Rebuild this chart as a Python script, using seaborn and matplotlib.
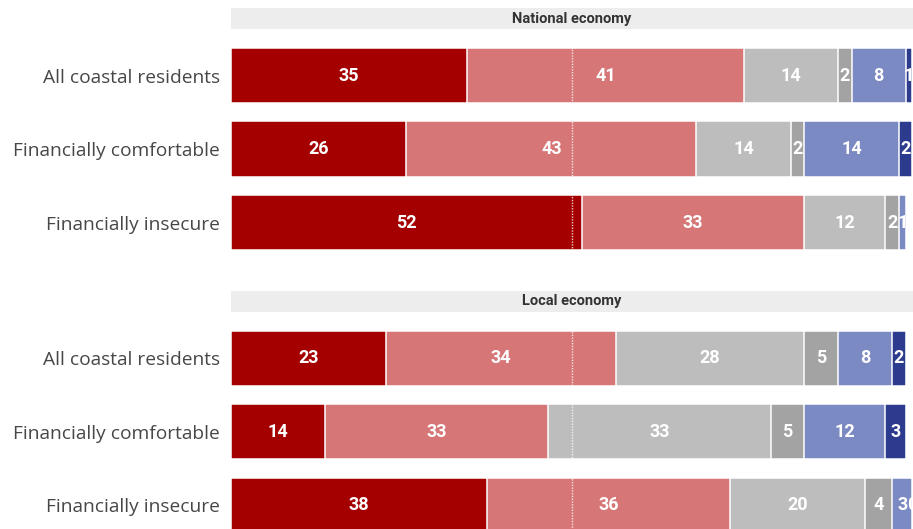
import matplotlib
matplotlib.use("Agg")
import matplotlib.pyplot as plt
from matplotlib.patches import Rectangle
import numpy as np
import pandas as pd
import seaborn as sns

# Response shares (percent) by group, one list per answer category
groups = ["All coastal residents", "Financially comfortable", "Financially insecure"]
answers = ["Much worse", "Somewhat worse", "Stayed the same", "Not sure",
           "Somewhat better", "Much better"]

national_much_worse = [35, 26, 52]
national_somewhat_worse = [41, 43, 33]
national_same = [14, 14, 12]
national_unsure = [2, 2, 2]
national_somewhat_better = [8, 14, 1]
national_much_better = [1, 2, 0]

local_much_worse = [23, 14, 38]
local_somewhat_worse = [34, 33, 36]
local_same = [28, 33, 20]
local_unsure = [5, 5, 4]
local_somewhat_better = [8, 12, 3]
local_much_better = [2, 3, 0]

panels = [
    ("National economy", [national_much_worse, national_somewhat_worse, national_same,
                          national_unsure, national_somewhat_better, national_much_better]),
    ("Local economy", [local_much_worse, local_somewhat_worse, local_same,
                       local_unsure, local_somewhat_better, local_much_better]),
]

colors = ["#A50000", "#D67676", "#BDBDBD", "#A3A3A3", "#7B8AC2", "#2D3B8E"]

sns.set_theme(style="white")
plt.rcParams["font.family"] = ["Open Sans", "DejaVu Sans"]

W, H = 913, 529
fig = plt.figure(figsize=(W / 100, H / 100), dpi=100)

left_px = 231
xmax = 101.1
# (axes top px, axes bottom px, strip top px, strip bottom px)
layout = [(38.75, 259.25, 8, 29), (321.5, 542.0, 291, 312)]
num_font = ["Roboto", "DejaVu Sans"]

for (title, series), (atop, abot, stop, sbot) in zip(panels, layout):
    ax = fig.add_axes([left_px / W, 1 - abot / H, 1 - left_px / W, (abot - atop) / H])
    vals = np.array(series, dtype=float)          # shape (answers, groups)
    cum = np.cumsum(vals, axis=0)

    # Stack by overlaying cumulative totals, longest first
    for k in range(len(answers) - 1, -1, -1):
        df = pd.DataFrame({"group": groups, "total": cum[k]})
        sns.barplot(data=df, x="total", y="group", orient="h", color=colors[k],
                    saturation=1, width=0.75, edgecolor="white", linewidth=1.1,
                    ax=ax, zorder=2)

    # segment value labels; a zero share is written just after its neighbour's label
    for k in range(len(answers)):
        for i in range(len(groups)):
            v = vals[k, i]
            if v > 0:
                x, ha = cum[k, i] - v / 2, "center"
            else:
                x, ha = cum[k - 1, i] - vals[k - 1, i] / 2 + 0.8, "left"
            ax.text(x, i, f"{int(v)}", ha=ha, va="center", color="white",
                    fontsize=13, fontweight="bold", family=num_font,
                    zorder=4, clip_on=True)

    ax.set_xlim(0, xmax)
    ax.set_ylim(2.5, -0.5)
    ax.axvline(xmax / 2, color="white", linestyle=(0, (1, 1)), linewidth=1.0,
               alpha=0.8, zorder=3)
    ax.set_xlabel("")
    ax.set_ylabel("")
    ax.set_xticks([])
    ax.tick_params(axis="y", length=0, pad=8, labelsize=13.8, labelcolor="#474747")
    for s in ax.spines.values():
        s.set_visible(False)

    # facet strip
    fig.patches.append(Rectangle((left_px / W, 1 - sbot / H), 1 - left_px / W,
                                 (sbot - stop) / H, transform=fig.transFigure,
                                 facecolor="#EDEDED", edgecolor="none", zorder=0))
    fig.text((left_px + W) / 2 / W, 1 - (stop + sbot) / 2 / H, title,
             ha="center", va="center", fontsize=10.5, fontweight="bold",
             color="#333333", family=num_font)

fig.savefig("out.png", dpi=100)
